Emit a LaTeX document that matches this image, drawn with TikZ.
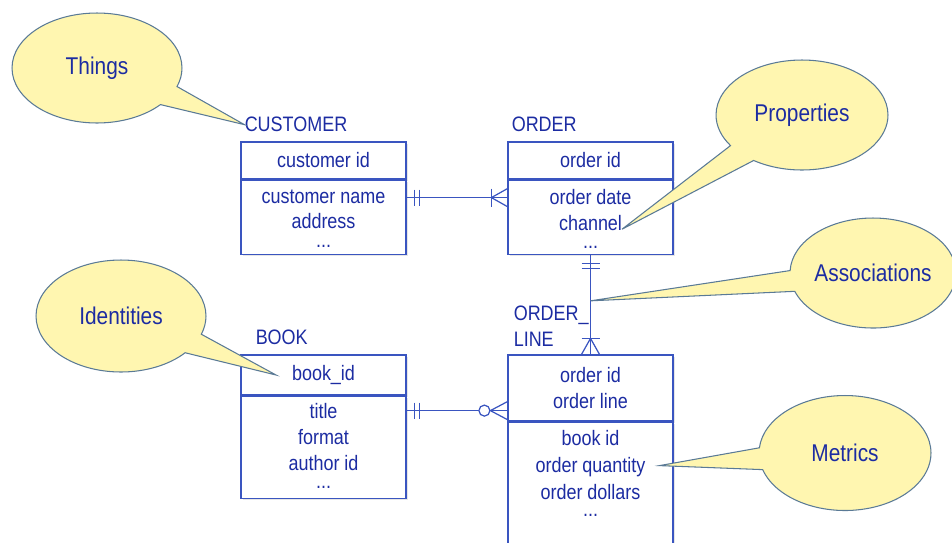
\documentclass[tikz,border=0pt]{standalone}
\usepackage{fontspec}
\setmainfont{Liberation Sans}[FakeStretch=0.86]
\usetikzlibrary{positioning,shapes.callouts,shadows}

\definecolor{erblue}{HTML}{3A55C0}
\definecolor{ertext}{HTML}{1C2CA2}
\definecolor{notefill}{HTML}{FFF6B0}
\definecolor{noteline}{HTML}{5A7A96}

\begin{document}
\begin{tikzpicture}[x=0.02cm, y=-0.02cm]
    \tikzstyle{box} = [rectangle, draw=erblue, line width=0.7pt, fill=white, minimum width=3.3cm, inner sep=0pt, text=ertext, align=center, font=\fontsize{11.9}{14.5}\selectfont, drop shadow={opacity=0.2, shadow xshift=1.2pt, shadow yshift=-1.2pt}]
    \tikzstyle{fields} = [inner xsep=0pt, inner ysep=5.5pt, text=ertext, align=center, font=\fontsize{11.9}{14.5}\selectfont]
    \tikzstyle{entity} = [inner xsep=0.08cm, inner ysep=0.18cm, text=ertext, align=left, font=\fontsize{11.9}{14.5}\selectfont]
    \tikzstyle{rel} = [draw=erblue, line width=0.7pt]
    \tikzstyle{note} = [ellipse callout, draw=noteline, fill=notefill, line width=0.6pt, inner sep=0pt, text=ertext, font=\fontsize{13.8}{16}\selectfont, callout pointer arc=22]

    \useasboundingbox (0,0) rectangle (952,542);

    % entities
    \node [box, minimum height=0.74cm] (customer-key) at (323.5,160.5) {customer id};
    \node [box, minimum height=1.48cm, below=0pt of customer-key] (customer-attr) {};
    \node [fields, anchor=north] (customer-fields) at (customer-attr.north) {customer name\\address\\[-4pt]...};
    \node [entity, anchor=south west] (customer-title) at (customer-key.north west) {CUSTOMER};

    \node [box, minimum height=0.74cm] (order-key) at (590.5,160.5) {order id};
    \node [box, minimum height=1.48cm, below=0pt of order-key] (order-attr) {};
    \node [fields, anchor=north] (order-fields) at (order-attr.north) {order date\\channel\\[-4pt]...};
    \node [entity, anchor=south west] (order-title) at (order-key.north west) {ORDER};

    \node [box, minimum height=0.8cm] (book-key) at (323.5,375) {book\_id};
    \node [box, minimum height=2.04cm, below=0pt of book-key] (book-attr) {};
    \node [fields, anchor=north, inner ysep=4.4pt, font=\fontsize{11.9}{14.8}\selectfont] (book-fields) at (book-attr.north) {title\\format\\author id\\[-5pt]...};
    \node [entity, anchor=south west] (book-title) at ([xshift=0.22cm]book-key.north west) {BOOK};

    \node [box, minimum height=1.32cm] (line-key) at (590.5,388) {order id\\order line};
    \node [box, minimum height=2.78cm, below=0pt of line-key] (line-attr) {};
    \node [fields, anchor=north, inner ysep=5pt, font=\fontsize{11.9}{15.3}\selectfont] (line-fields) at (line-attr.north) {book id\\order quantity\\order dollars\\[-5.5pt]...};
    \node [entity, anchor=south west, inner ysep=0.16cm] (line-title) at ([xshift=0.04cm]line-key.north west) {ORDER\_\\LINE};

    % customer places orders
    \coordinate (co-from) at ([yshift=-0.36cm]customer-attr.north east);
    \coordinate (co-to) at (co-from -| order-attr.west);
    \draw [rel] (co-from) -- (co-to);
    \draw [rel] ([xshift=0.16cm]co-from) ++(0,-8) -- ++(0,16);
    \draw [rel] ([xshift=0.26cm]co-from) ++(0,-8) -- ++(0,16);
    \draw [rel] ([xshift=-0.32cm]co-to) ++(0,-9) -- ++(0,18);
    \draw [rel] (co-to) ++(0,-9) -- ([xshift=-0.32cm]co-to) -- ++(16,9);

    % order has lines
    \coordinate (ol-from) at (order-attr.south);
    \coordinate (ol-to) at (line-key.north);
    \draw [rel] (ol-from) -- (ol-to);
    \draw [rel] ([yshift=-0.18cm]ol-from) ++(-9,0) -- ++(18,0);
    \draw [rel] ([yshift=-0.28cm]ol-from) ++(-9,0) -- ++(18,0);
    \draw [rel] ([yshift=0.32cm]ol-to) ++(-9,0) -- ++(18,0);
    \draw [rel] (ol-to) ++(-9,0) -- ([yshift=0.32cm]ol-to) -- ++(9,16);

    % book appears in lines
    \coordinate (bl-from) at ([yshift=-0.3cm]book-attr.north east);
    \coordinate (bl-to) at (bl-from -| line-key.west);
    \draw [rel] (bl-from) -- (bl-to);
    \draw [rel] ([xshift=0.16cm]bl-from) ++(0,-8) -- ++(0,16);
    \draw [rel] ([xshift=0.26cm]bl-from) ++(0,-8) -- ++(0,16);
    \draw [rel, fill=white] ([xshift=-0.46cm]bl-to) circle [radius=5.5];
    \draw [rel] (bl-to) ++(0,-9) -- ([xshift=-0.34cm]bl-to) -- ++(17,9);

    % callouts
    \node [note, minimum width=3.4cm, minimum height=2.2cm, callout absolute pointer={([xshift=0.08cm]customer-title.west)}] (things) at (97,68) {Things};
    \node [note, minimum width=3.44cm, minimum height=2.2cm, callout absolute pointer={([xshift=0.63cm,yshift=-0.24cm]order-attr.center)}] (properties) at (802,115) {Properties};
    \node [note, minimum width=3.32cm, minimum height=2.2cm, callout absolute pointer={([yshift=-0.92cm]ol-from)}] (associations) at (873,273) {Associations};
    \node [note, minimum width=3.4cm, minimum height=2.24cm, callout absolute pointer={([xshift=-0.95cm]book-key.center)}] (identities) at (121,316) {Identities};
    \node [note, minimum width=3.44cm, minimum height=2.3cm, callout absolute pointer={([xshift=1.38cm,yshift=-0.88cm]line-attr.north)}] (metrics) at (845,453) {Metrics};
\end{tikzpicture}
\end{document}
